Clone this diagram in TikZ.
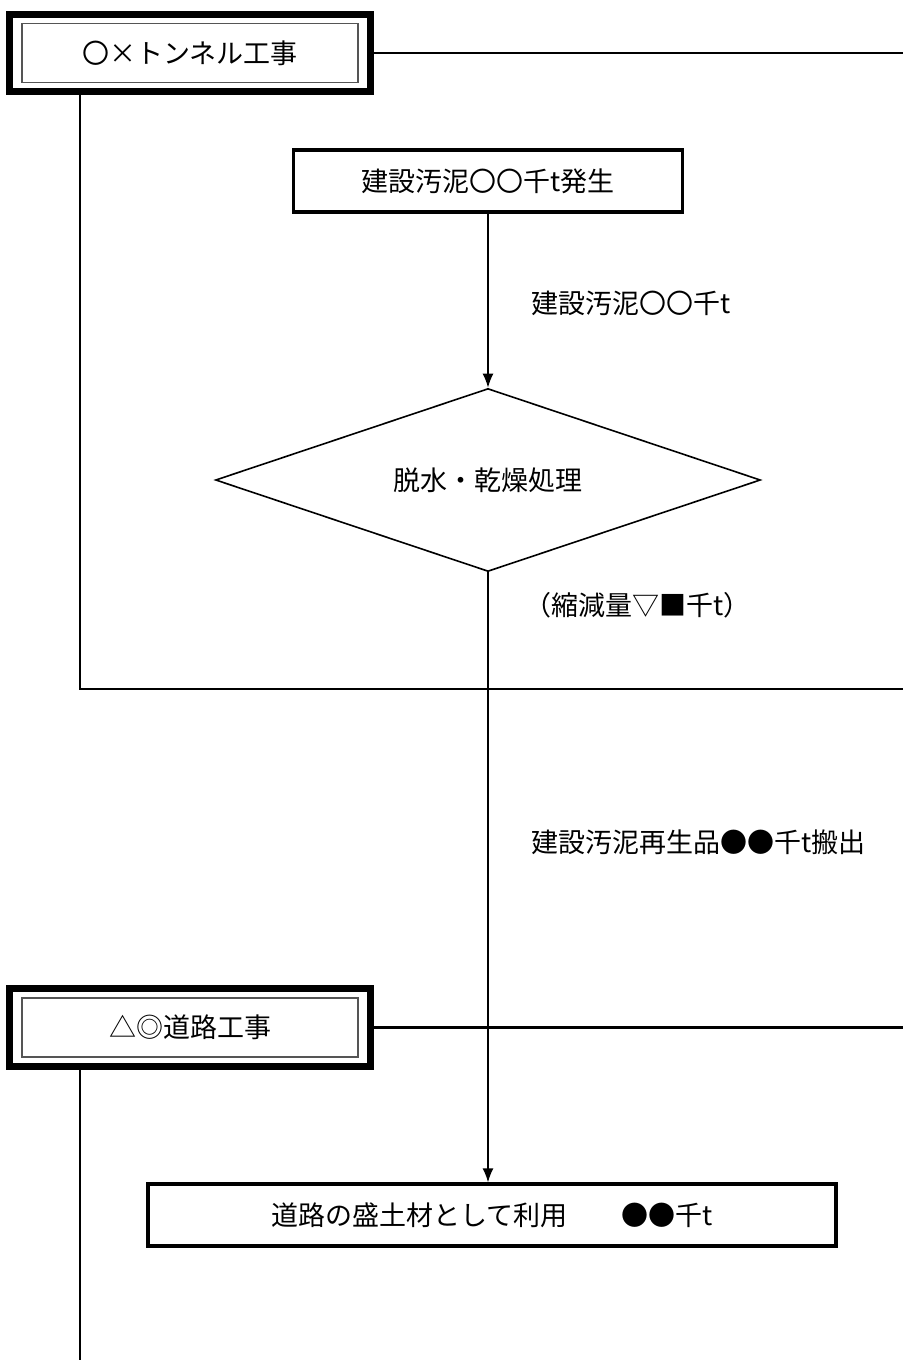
\documentclass[tikz,border=0pt]{standalone}
\usepackage{fontspec}
\setmainfont{Noto Sans CJK JP}
\usepackage{tikz}
\usetikzlibrary{arrows.meta,shapes.geometric,fit}
\definecolor{innerline}{HTML}{555555}
\tikzset{%
    >={Latex[length=7pt,width=5.5pt]}
}

\begin{document}
\begin{tikzpicture}[x=0.5pt, y=-0.5pt, every node/.style={font=\fontsize{13.5pt}{16pt}\selectfont},
  head/.style={draw=innerline, line width=0.8pt, minimum width=168pt, minimum height=29.5pt, inner sep=0pt},
  headframe/.style={draw, line width=3.5pt, inner xsep=6pt, inner ysep=4.25pt},
  work/.style={draw, line width=1.6pt, minimum height=31pt, inner sep=0pt},
  note/.style={anchor=west, inner sep=0pt},
  lane/.style={line width=1.4pt},
  flow/.style={line width=0.8pt}]
  \useasboundingbox (0,0) rectangle (903,1360);

  % first site
  \node[head] (tunnel) at (190,53) {〇×トンネル工事};
  \node[headframe, fit=(tunnel)] (tunnelframe) {};
  \coordinate (tunnelend) at (903,53);
  \coordinate (tunnelcorner) at (80,689);
  \coordinate (tunnelbottom) at (903,689);
  \draw[lane] (tunnelframe.east) -- (tunnelend);
  \draw[lane] (tunnelframe.south -| tunnelcorner) -- (tunnelcorner) -- (tunnelbottom);

  \node[work, minimum width=194.5pt] (gen) at (488,181) {建設汚泥〇〇千t発生};
  \node[draw, diamond, line width=0.8pt, aspect=3, inner sep=0pt,
        minimum width=272.5pt, minimum height=91.5pt] (dry) at (488,480) {脱水・乾燥処理};
  \draw[flow, ->] (gen.south) -- (dry.north);
  \node[note] (sludge) at (531,303) {建設汚泥〇〇千t};
  \node[note] (reduce) at (524,605) {（縮減量▽■千t）};
  \node[note] (carry) at (531,842) {建設汚泥再生品●●千t搬出};

  % second site
  \node[head] (road) at (190,1027.5) {△◎道路工事};
  \node[headframe, fit=(road)] (roadframe) {};
  \coordinate (roadend) at (903,1027.5);
  \coordinate (roadcorner) at (80,1360);
  \draw[lane] (roadframe.east) -- (roadend);
  \draw[lane] (roadframe.south -| roadcorner) -- (roadcorner);

  \node[work, minimum width=344pt] (use) at (492,1215) {道路の盛土材として利用　　●●千t};
  \draw[flow, ->] (dry.south) -- (dry.south |- use.north);
\end{tikzpicture}
\end{document}
